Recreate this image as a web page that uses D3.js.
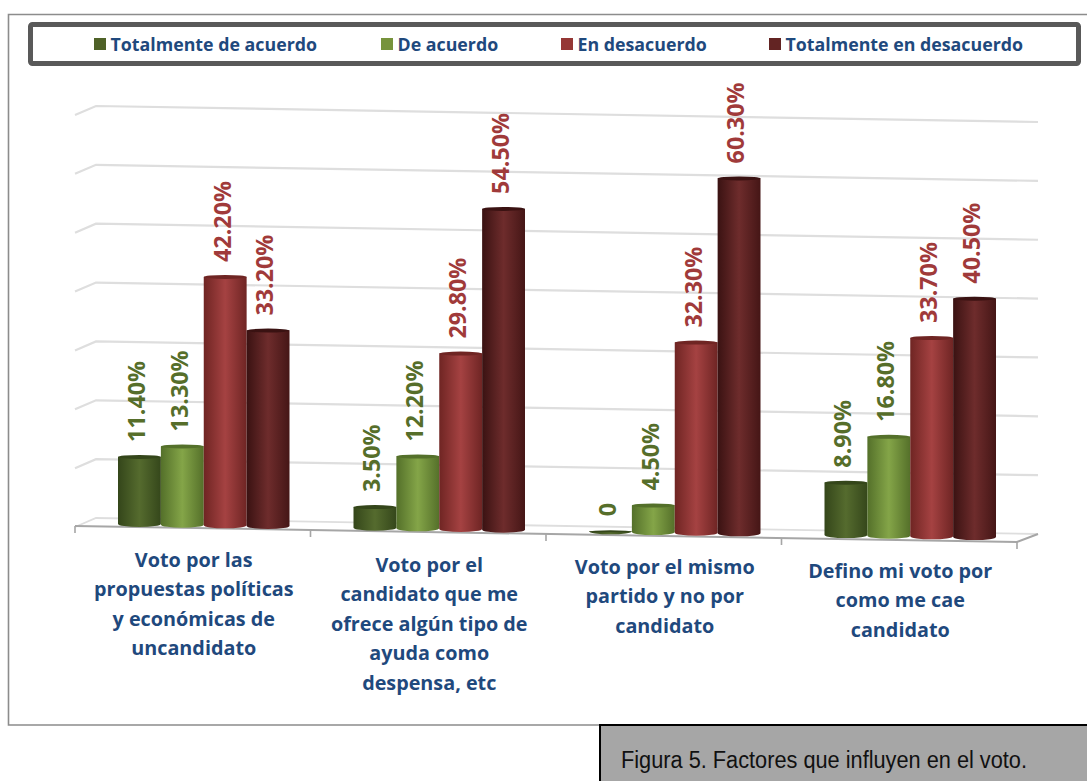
<!DOCTYPE html>
<html><head><meta charset="utf-8">
<script src="https://cdn.jsdelivr.net/npm/d3@7"></script>
<style>html,body{margin:0;padding:0;background:#fff;overflow:hidden}svg{display:block}</style>
</head><body><svg id="c" width="1087" height="781"></svg>
<script>
const categories = [
  ["Voto por las","propuestas políticas","y económicas de","uncandidato"],
  ["Voto por el","candidato que me","ofrece algún tipo de","ayuda como","despensa, etc"],
  ["Voto por el mismo","partido y no por","candidato"],
  ["Defino mi voto por","como me cae","candidato"]
];
const seriesNames = ["Totalmente de acuerdo","De acuerdo","En desacuerdo","Totalmente en desacuerdo"];
const totalmenteAcuerdo = [11.4, 3.5, 0, 8.9];
const deAcuerdo = [13.3, 12.2, 4.5, 16.8];
const enDesacuerdo = [42.2, 29.8, 32.3, 33.7];
const totalmenteDesacuerdo = [33.2, 54.5, 60.3, 40.5];
const valueLabels = [
  ["11.40%","3.50%","0","8.90%"],
  ["13.30%","12.20%","4.50%","16.80%"],
  ["42.20%","29.80%","32.30%","33.70%"],
  ["33.20%","54.50%","60.30%","40.50%"]
];
const yTicks = [0,10,20,30,40,50,60,70];
const seriesValues = [totalmenteAcuerdo, deAcuerdo, enDesacuerdo, totalmenteDesacuerdo];
const swatch = ["#4F6228","#77933C","#953735","#632423"];
const labelCol = ["#566E2A","#566E2A","#A03A3A","#A03A3A"];
const grads = [
  ["#34461a","#556b2e","#35471b"],
  ["#54702a","#84a548","#55702a"],
  ["#6f2523","#a54242","#6f2524"],
  ["#3a1212","#6e2c2c","#451616"]
];
const legendX = [94,381,561,769];
const catLabelY = [561,566,568,572];

const svg = d3.select("#c");
const defs = svg.append("defs");
grads.forEach((g,i)=>{
  const lg = defs.append("linearGradient").attr("id","g"+i).attr("x1",0).attr("x2",1).attr("y1",0).attr("y2",0);
  lg.selectAll("stop").data(g).join("stop")
    .attr("offset",(d,j)=>[0,0.5,1][j]).attr("stop-color",d=>d);
});

// outer frame
svg.append("path").attr("d","M1087,14.5H8.5V725H600").attr("fill","none").attr("stroke","#8c8c8c").attr("stroke-width",1.6);

// legend
svg.append("rect").attr("x",30.5).attr("y",24.5).attr("width",1048).attr("height",39).attr("rx",2)
  .attr("fill","#fff").attr("stroke","#595959").attr("stroke-width",5);
const lg = svg.append("g").selectAll("g").data(seriesNames).join("g")
  .attr("transform",(d,i)=>`translate(${legendX[i]},44)`);
lg.append("rect").attr("x",0).attr("y",-6).attr("width",12).attr("height",12).attr("fill",(d,i)=>swatch[i]);
lg.append("text").attr("x",16.5).attr("y",6.5).text(d=>d)
  .attr("font-family","'Open Sans'").attr("font-weight",700).attr("font-size",17.8).attr("fill","#1F497D");

// scales
const x = d3.scaleBand().domain(d3.range(4)).range([75,1017]).paddingInner(0).paddingOuter(0);
const xs = d3.scaleBand().domain(d3.range(4)).range([0,171.5]);
const y = d3.scaleLinear().domain([0,70]).range([0,412]);
const backY = v => 518 - y(v);
const slope = 0.017;
const barBase = px => 524 + (px-140)*0.0156;

// walls / gridlines
const grid = svg.append("g").attr("fill","none").attr("stroke","#dedede").attr("stroke-width",2.2);
grid.selectAll("path").data(yTicks).join("path")
  .attr("stroke-width",d=>d===0?1.8:2.2)
  .attr("d",d=>`M75,${backY(d)+9}L96,${backY(d)}L1038,${backY(d)+(1038-96)*slope}`);

// floor front
const fy = px => 526 + (px-75)*slope;
svg.append("path").attr("d",`M75,${fy(75)}L1017,${fy(1017)}L1038,${backY(0)+(1038-96)*slope}`)
  .attr("fill","none").attr("stroke","#a6a6a6").attr("stroke-width",2);
svg.append("g").selectAll("line").data([0,1,2,3,4]).join("line")
  .attr("x1",d=>75+d*x.step()).attr("x2",d=>75+d*x.step())
  .attr("y1",d=>fy(75+d*x.step())).attr("y2",d=>fy(75+d*x.step())+7)
  .attr("stroke","#a6a6a6").attr("stroke-width",1.6);

// bars
const ry = 3;
const barData = seriesValues.flatMap((vals,s)=>vals.map((v,c)=>({s,c,v})));
const bx = d => x(d.c)+43 + xs(d.s);
const bw = xs.bandwidth();
const bars = svg.append("g").selectAll("g").data(barData).join("g");
bars.append("path").attr("fill",d=>`url(#g${d.s})`).attr("d",d=>{
  const x0=bx(d), x1=x0+bw, base=barBase(x0+bw/2), top=base-y(d.v);
  return `M${x0},${top}L${x0},${base}A${bw/2},${ry} 0 0 0 ${x1},${base}L${x1},${top}Z`;
});
bars.append("ellipse").attr("cx",d=>bx(d)+bw/2).attr("cy",d=>barBase(bx(d)+bw/2)-y(d.v))
  .attr("rx",bw/2).attr("ry",d=>d.v===0?1:ry-1)
  .attr("fill",d=>grads[d.s][0]);

// value labels
svg.append("g").selectAll("text").data(barData).join("text")
  .attr("transform",d=>{
    const px=bx(d)+bw/2-3, py=barBase(bx(d)+bw/2)-y(d.v)-15;
    return `translate(${px},${py}) rotate(-90)`;
  })
  .attr("dy","0.36em")
  .attr("font-family","'Open Sans'").attr("font-weight",700).attr("font-size",23.3)
  .attr("fill",d=>labelCol[d.s])
  .text(d=>valueLabels[d.s][d.c]);

// category labels
const cat = svg.append("g").selectAll("text").data(categories).join("text")
  .attr("font-family","'Open Sans'").attr("font-weight",700).attr("font-size",19.8)
  .attr("fill","#1F497D").attr("text-anchor","middle");
cat.selectAll("tspan").data((d,i)=>d.map((t,j)=>({t,j,i}))).join("tspan")
  .attr("x",d=>x(d.i)+x.bandwidth()/2+1)
  .attr("y",d=>catLabelY[d.i]+6+d.j*29.4)
  .text(d=>d.t);

// caption
svg.append("rect").attr("x",600).attr("y",725).attr("width",490).attr("height",60)
  .attr("fill","#A6A6A6").attr("stroke","#000").attr("stroke-width",2);
svg.append("text").attr("x",621).attr("y",768).text("Figura 5. Factores que influyen en el voto.")
  .attr("font-family","'Liberation Sans'").attr("font-size",23).attr("fill","#111")
  .attr("textLength",406).attr("lengthAdjust","spacingAndGlyphs");
</script></body></html>
